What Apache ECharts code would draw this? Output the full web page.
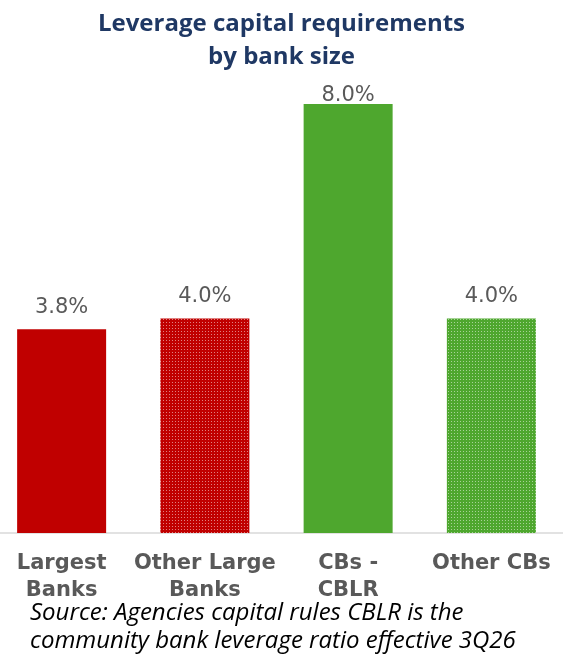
<!DOCTYPE html>
<html>
<head>
<meta charset="utf-8">
<script src="https://cdn.jsdelivr.net/npm/echarts@6/dist/echarts.min.js"></script>
<style>
  html, body { margin: 0; padding: 0; background: #fff; }
  #chart { width: 563px; height: 654px; }
</style>
</head>
<body>
<div id="chart"></div>
<script>
var categories = ['Largest\nBanks', 'Other Large\nBanks', 'CBs -\nCBLR', 'Other CBs'];
var values = [3.8, 4.0, 8.0, 4.0];
var baseColors = ['#c00000', '#c00000', '#4ea72e', '#4ea72e'];
var dotted = [false, true, false, true];

// small dotted fill like the office pattern
function dotPattern(color) {
    var c = document.createElement('canvas');
    c.width = 3;
    c.height = 3;
    var ctx = c.getContext('2d');
    ctx.fillStyle = color;
    ctx.fillRect(0, 0, 3, 3);
    ctx.fillStyle = 'rgba(255,255,255,0.5)';
    ctx.fillRect(1, 1, 1, 1);
    return { image: c, repeat: 'repeat' };
}

var chart = echarts.init(document.getElementById('chart'));

var option = {
    animation: false,
    title: {
        text: 'Leverage capital requirements\nby bank size',
        left: 'center',
        top: 3,
        textStyle: {
            fontFamily: 'Open Sans',
            fontSize: 24,
            fontWeight: 'bold',
            color: '#1f3864',
            lineHeight: 33
        }
    },
    grid: {
        left: -10,
        right: 0,
        top: 104,
        bottom: 121,
        outerBoundsMode: 'none',
        containLabel: false
    },
    xAxis: {
        type: 'category',
        data: categories,
        axisTick: { show: false },
        axisLine: { lineStyle: { color: '#d9d9d9', width: 1.5 } },
        axisLabel: {
            interval: 0,
            hideOverlap: false,
            margin: 17,
            fontFamily: 'DejaVu Sans',
            fontSize: 21,
            fontWeight: 'bold',
            color: '#595959',
            lineHeight: 27
        }
    },
    yAxis: {
        type: 'value',
        min: 0,
        max: 8,
        show: false,
        splitLine: { show: false }
    },
    graphic: [{
        type: 'text',
        left: 30,
        top: 599,
        style: {
            text: 'Source: Agencies capital rules CBLR is the\ncommunity bank leverage ratio effective 3Q26',
            font: 'italic 24px "Open Sans"',
            fill: '#000',
            lineHeight: 28
        }
    }],
    series: [{
        type: 'bar',
        barWidth: 89,
        data: values.map(function (v, i) {
            var item = {
                value: v,
                itemStyle: { color: dotted[i] ? dotPattern(baseColors[i]) : baseColors[i] }
            };
            // the tallest label sits squeezed against the bar top
            if (v === 8.0) item.label = { distance: -2 };
            return item;
        }),
        label: {
            show: true,
            position: 'top',
            distance: 11,
            fontFamily: 'DejaVu Sans',
            fontSize: 21,
            color: '#595959',
            formatter: function (p) { return p.value.toFixed(1) + '%'; }
        }
    }]
};

chart.setOption(option);
window.onresize = chart.resize;
</script>
</body>
</html>
